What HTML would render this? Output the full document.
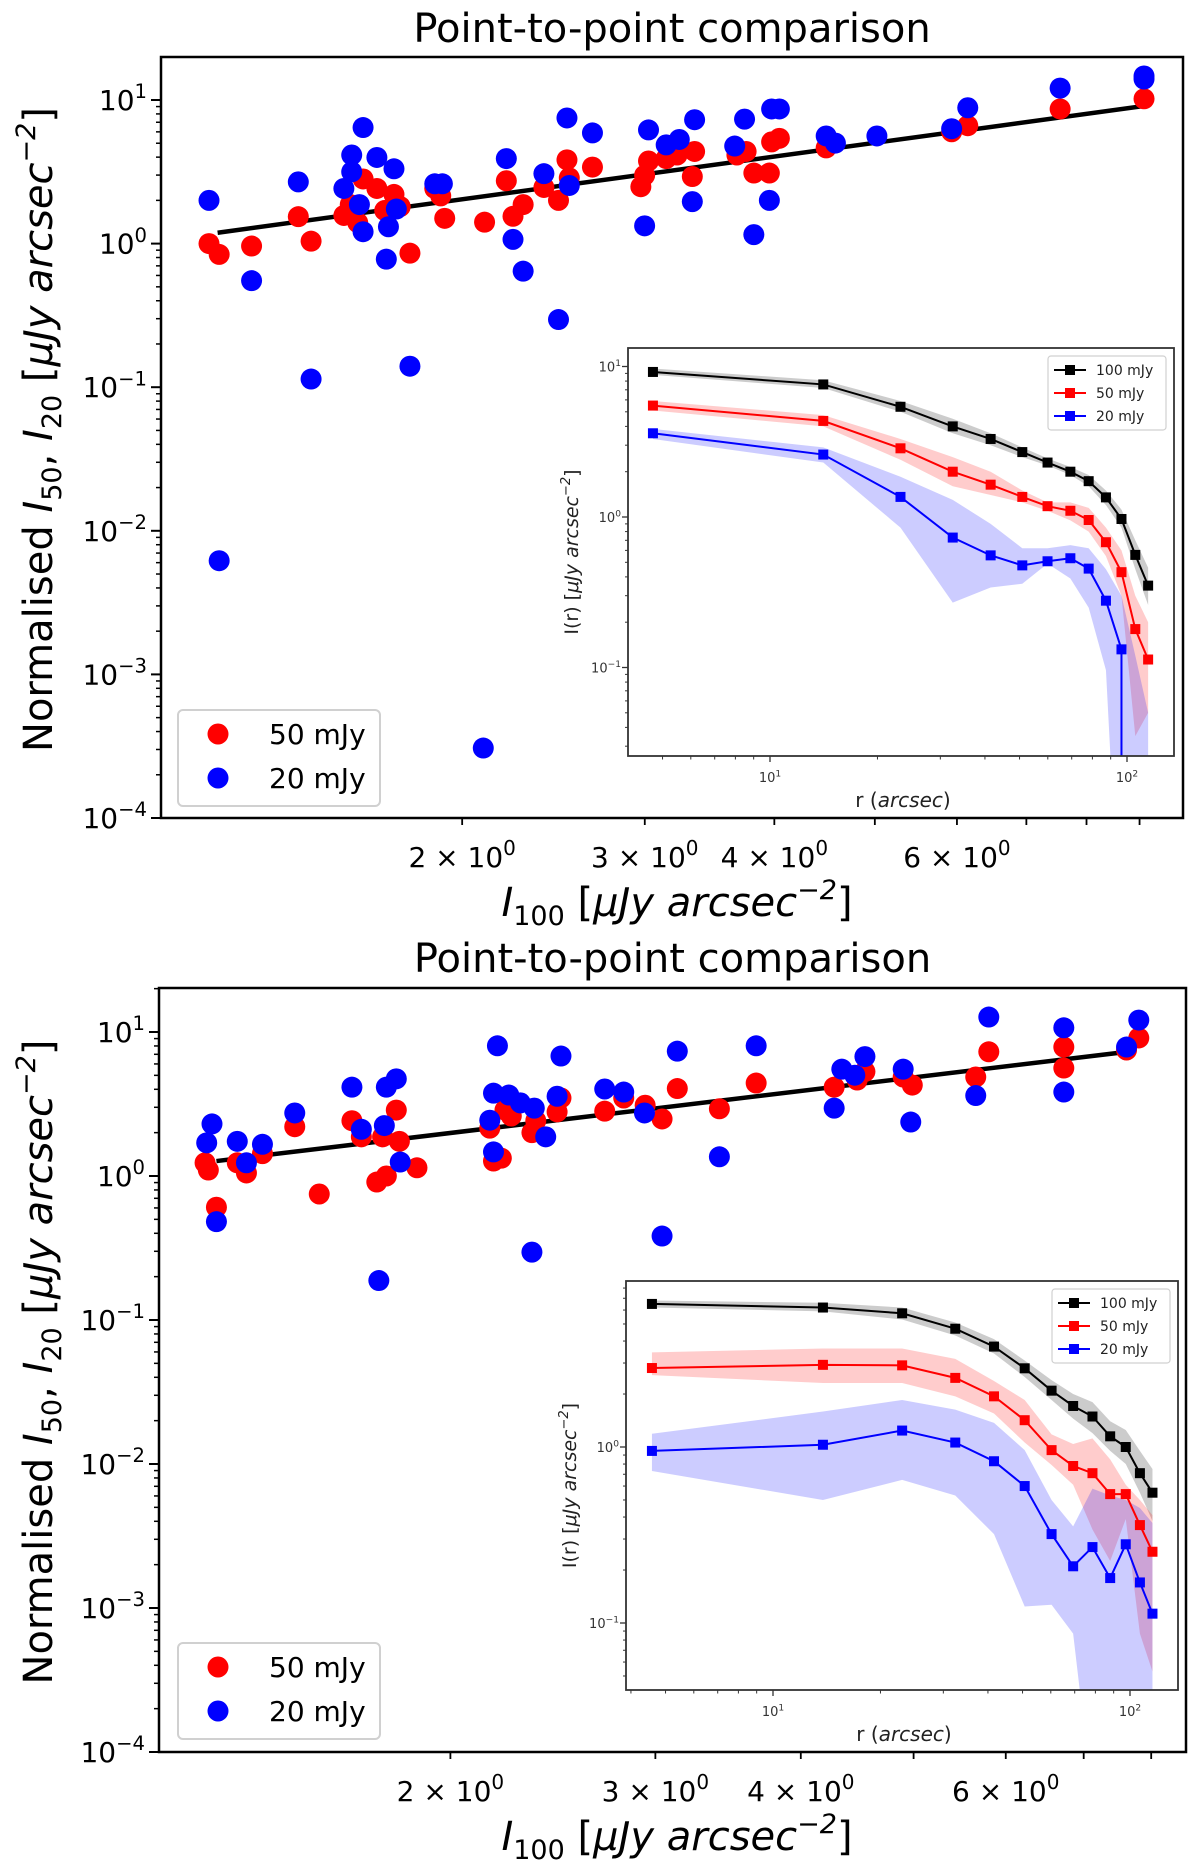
<!DOCTYPE html>
<html><head><meta charset="utf-8"><style>
html,body{margin:0;padding:0;background:#fff;}
svg{display:block;font-family:"DejaVu Sans","Liberation Sans",sans-serif;}
</style></head><body>
<svg id="fig" width="1200" height="1871" viewBox="0 0 1200 1871" xmlns="http://www.w3.org/2000/svg"></svg>
<script>
// ===== Top panel main scatter data =====
const topRedX = [1.14,1.166,1.253,1.39,1.43,1.538,1.56,1.586,1.605,1.655,1.684,1.719,1.743,1.781,1.882,1.907,1.924,2.102,2.206,2.239,2.29,2.398,2.477,2.524,2.537,2.671,2.974,2.999,3.025,3.146,3.223,3.334,3.351,3.681,3.757,3.822,3.956,3.976,4.045,4.488,5.93,6.146,7.545,9.09];
const topRedY = [1.0,0.841,0.962,1.54,1.04,1.57,1.87,1.40,2.82,2.42,1.70,2.20,1.81,0.858,2.42,2.15,1.50,1.41,2.74,1.55,1.87,2.46,2.0,3.83,2.87,3.41,2.49,2.99,3.76,3.91,4.14,2.93,4.38,4.14,4.38,3.10,3.10,5.11,5.41,4.64,6.01,6.62,8.66,10.2];
const topBlueX = [1.14,1.166,1.253,1.39,1.43,1.538,1.565,1.565,1.592,1.605,1.605,1.655,1.69,1.698,1.719,1.728,1.781,1.882,1.914,2.096,2.206,2.239,2.29,2.398,2.477,2.524,2.537,2.671,2.999,3.025,3.146,3.239,3.334,3.351,3.663,3.744,3.822,3.956,3.976,4.045,4.488,4.581,5.023,5.93,6.146,7.545,9.09,9.09];
const topBlueY = [2.0,0.00619,0.552,2.69,0.114,2.42,4.14,3.16,1.87,6.43,1.21,3.98,0.779,1.31,3.32,1.74,0.140,2.61,2.61,0.000307,3.91,1.07,0.643,3.07,0.296,7.50,2.54,5.90,1.33,6.19,4.87,5.31,1.96,7.29,4.78,7.36,1.155,2.0,8.66,8.66,5.62,5.01,5.62,6.31,8.83,12.1,14.7,14.0];
const topFitX = [1.162,9.09];
const topFitY = [1.19,9.08];
// ===== Top inset profile data =====
const tR = [4.7,14.1,23.2,32.5,41.5,50.9,59.9,69.4,78.1,87.3,96.5,105.5,114.6];
const tBlack = [9.2,7.6,5.4,4.0,3.3,2.7,2.3,2.0,1.73,1.35,0.97,0.56,0.35];
const tBlackHi = [9.7,8.1,5.9,4.5,3.6,2.9,2.45,2.15,1.9,1.5,1.12,0.7,0.46];
const tBlackLo = [8.8,7.2,5.0,3.6,3.0,2.5,2.2,1.9,1.6,1.2,0.85,0.45,0.26];
const tRed = [5.5,4.35,2.86,2.0,1.64,1.36,1.18,1.10,0.955,0.68,0.43,0.18,0.113];
const tRedHi = [5.9,4.75,3.3,2.5,2.0,1.5,1.25,1.25,1.15,0.85,0.6,0.3,0.2];
const tRedLo = [5.1,4.0,2.4,1.6,1.4,1.25,1.1,0.95,0.8,0.55,0.3,0.035,0.05];
const tBlue = [3.6,2.6,1.36,0.73,0.556,0.477,0.508,0.532,0.454,0.278,0.132,0,null];
const tBlueHi = [3.85,2.9,1.85,1.3,0.9,0.62,0.62,0.65,0.62,0.45,0.3,0.12,0.05];
const tBlueLo = [3.3,2.3,0.85,0.27,0.34,0.36,0.49,0.39,0.25,0.096,0.001,0.001,0.001];
// ===== Bottom panel main scatter data =====
const botRedX = [1.231,1.239,1.259,1.312,1.336,1.379,1.470,1.543,1.646,1.677,1.729,1.762,1.749,1.797,1.808,1.872,2.162,2.178,2.212,2.228,2.256,2.350,2.368,2.470,2.489,2.714,2.818,2.940,3.040,3.133,3.405,3.662,4.273,4.472,4.541,4.898,4.987,5.654,5.802,6.730,6.730,7.619,7.806];
const botRedY = [1.235,1.10,0.607,1.235,1.05,1.43,2.20,0.750,2.42,1.87,0.908,1.0,1.87,2.87,1.74,1.14,2.15,1.27,1.33,2.87,2.61,2.0,2.42,2.79,3.48,2.82,3.48,3.10,2.49,4.05,2.93,4.42,4.14,4.64,5.31,4.87,4.28,4.87,7.29,7.86,5.62,7.50,9.09];
const botBlueX = [1.235,1.248,1.259,1.312,1.336,1.379,1.470,1.646,1.677,1.736,1.755,1.762,1.797,1.811,2.162,2.178,2.195,2.178,2.245,2.297,2.350,2.361,2.415,2.470,2.489,2.714,2.818,2.936,3.040,3.133,3.405,3.662,4.273,4.338,4.451,4.541,4.898,4.972,5.654,5.802,6.730,6.730,7.619,7.806];
const botBlueY = [1.70,2.30,0.482,1.74,1.235,1.66,2.74,4.14,2.11,0.188,2.24,4.14,4.73,1.25,2.44,1.47,8.02,3.76,3.65,3.22,0.296,2.96,1.87,3.58,6.81,4.02,3.83,2.74,0.383,7.36,1.36,8.02,2.96,5.52,5.01,6.75,5.52,2.37,3.62,12.7,10.7,3.83,7.86,12.1];
const botFitX = [1.259,7.48,7.66];
const botFitY = [1.27,7.15,7.45];
// ===== Bottom inset profile data =====
const bR = [4.58,13.8,23.0,32.4,41.6,50.7,60.3,69.3,78.5,88.0,97.3,106.6,115.6];
const bBlack = [6.5,6.2,5.75,4.7,3.72,2.8,2.09,1.71,1.49,1.15,1.0,0.71,0.55];
const bBlackHi = [6.8,6.6,6.2,5.1,4.1,3.1,2.4,2.0,1.8,1.4,1.25,0.95,0.75];
const bBlackLo = [6.2,5.9,5.3,4.3,3.4,2.5,1.85,1.45,1.2,0.95,0.8,0.55,0.38];
const bRed = [2.81,2.93,2.91,2.47,1.94,1.42,0.96,0.78,0.71,0.54,0.54,0.36,0.254];
const bRedHi = [3.45,3.63,3.63,3.17,2.37,1.85,1.18,1.04,1.12,0.85,0.61,0.5,0.41];
const bRedLo = [2.56,2.31,2.31,1.94,1.55,1.06,0.79,0.61,0.34,0.225,0.39,0.087,0.053];
const bBlue = [0.95,1.03,1.24,1.06,0.83,0.60,0.32,0.21,0.27,0.18,0.28,0.17,0.113];
const bBlueHi = [1.19,1.59,1.85,1.63,1.37,0.96,0.50,0.354,0.58,0.53,0.50,0.45,0.37];
const bBlueLo = [0.73,0.50,0.65,0.53,0.32,0.124,0.127,0.087,0.01,0.01,0.01,0.01,0.01];

const NS = "http://www.w3.org/2000/svg";
const svg = document.getElementById('fig');
function mk(tag, attrs, parent){
  const e = document.createElementNS(NS, tag);
  for (const k in attrs) e.setAttribute(k, attrs[k]);
  (parent||svg).appendChild(e);
  return e;
}
const L = Math.log10;

function supText(parent, x, y, base, sup, size, anchor, italic){
  const t = mk('text', {x:x, y:y, 'font-size':size, 'text-anchor':anchor||'middle', fill:'#000'}, parent);
  if (italic) t.setAttribute('font-style','italic');
  t.appendChild(document.createTextNode(base));
  const s = mk('tspan', {'font-size':size*0.7, dy:-size*0.42}, t);
  s.textContent = sup;
  return t;
}

let clipId = 0;
function mainPanel(P){
  const g = mk('g', {});
  
  
  const X = v => P.x0 + P.xd*L(v);
  const Y = v => P.y1 - P.yd*(L(v)-1);
  const ti = mk('text', {x:(P.left+P.right)/2, y:P.titleY, 'font-size':40, 'text-anchor':'middle'}, g);
  ti.textContent = 'Point-to-point comparison';
  
  
  const cid = 'c'+(clipId++);
  const cp = mk('clipPath', {id:cid}, g);
  mk('rect', {x:P.left, y:P.top, width:P.right-P.left, height:P.bottom-P.top}, cp);
  const pg = mk('g', {'clip-path':'url(#'+cid+')'}, g);
  const pts = P.fitX.map((v,i)=>X(v)+','+Y(P.fitY[i])).join(' ');
  const fl = mk('polyline', {points:pts, fill:'none', stroke:'#000', 'stroke-width':4.5}, pg);
  
  
  P.redX.forEach((v,i)=>{
    const c = mk('ellipse', {cx:X(v), cy:Y(P.redY[i]), rx:10.5, ry:10.5, fill:'#ff0000'}, pg);
    
    
  });
  P.blueX.forEach((v,i)=>{
    const c = mk('ellipse', {cx:X(v), cy:Y(P.blueY[i]), rx:10.5, ry:10.5, fill:'#0000ff'}, pg);
    
    
  });
  const fr = mk('rect', {x:P.left, y:P.top, width:P.right-P.left, height:P.bottom-P.top, fill:'none', stroke:'#000', 'stroke-width':2.5}, g);
  
  
  for (let e=-4; e<=1; e++){
    const yy = Y(Math.pow(10,e));
    mk('line', {x1:P.left-10, x2:P.left, y1:yy, y2:yy, stroke:'#000', 'stroke-width':2}, g);
    const lb = supText(g, P.left-14, yy+10, '10', e<0?'−'+(-e):String(e), 28, 'end');
    
    
    for (let m=2; m<=9; m++){
      const my = Y(m*Math.pow(10,e));
      if (my < P.top) continue;
      mk('line', {x1:P.left-5, x2:P.left, y1:my, y2:my, stroke:'#000', 'stroke-width':1.5}, g);
    }
  }
  for (let m=2; m<=9; m++){
    const xx = X(m);
    if (xx > P.right) continue;
    mk('line', {x1:xx, x2:xx, y1:P.bottom, y2:P.bottom+7, stroke:'#000', 'stroke-width':1.8}, g);
    if ([2,3,4,6].includes(m)){
      const t = mk('text', {x:xx, y:P.bottom+49, 'font-size':28, 'text-anchor':'middle'}, g);
      t.appendChild(document.createTextNode(m+' × 10'));
      const s = mk('tspan', {'font-size':20, dy:-12}, t); s.textContent='0';
      
      
    }
  }
  const xl = mk('text', {x:P.xlabX, y:P.bottom+98, 'font-size':40, 'text-anchor':'middle'}, g);
  const i1 = mk('tspan', {'font-style':'italic'}, xl); i1.textContent='I';
  const i2 = mk('tspan', {'font-size':27, dy:9}, xl); i2.textContent='100';
  const i3 = mk('tspan', {dy:-9}, xl); i3.textContent=' [';
  const i4 = mk('tspan', {'font-style':'italic'}, xl); i4.textContent='μJy arcsec';
  const i5 = mk('tspan', {'font-style':'italic','font-size':27, dy:-17}, xl); i5.textContent='−2';
  const i6 = mk('tspan', {dy:17}, xl); i6.textContent=']';
  
  
  const yc = (P.top+P.bottom)/2;
  const yl = mk('text', {x:0, y:0, 'font-size':40, 'text-anchor':'middle', transform:'translate(52,'+(yc-8)+') rotate(-90)'}, g);
  const j1 = mk('tspan', {}, yl); j1.textContent='Normalised ';
  const j2 = mk('tspan', {'font-style':'italic'}, yl); j2.textContent='I';
  const j3 = mk('tspan', {'font-size':27, dy:9}, yl); j3.textContent='50';
  const j4 = mk('tspan', {dy:-9}, yl); j4.textContent=', ';
  const j5 = mk('tspan', {'font-style':'italic'}, yl); j5.textContent='I';
  const j6 = mk('tspan', {'font-size':27, dy:9}, yl); j6.textContent='20';
  const j7 = mk('tspan', {dy:-9}, yl); j7.textContent=' [';
  const j8 = mk('tspan', {'font-style':'italic'}, yl); j8.textContent='μJy arcsec';
  const j9 = mk('tspan', {'font-style':'italic','font-size':27, dy:-17}, yl); j9.textContent='−2';
  const j10 = mk('tspan', {dy:17}, yl); j10.textContent=']';
  
  
  const lg = mk('g', {}, g);
  
  
  mk('rect', {x:178, y:P.legY, width:202, height:96, rx:5, fill:'#fff', stroke:'#d0d0d0', 'stroke-width':2}, lg);
  [['#ff0000','50 mJy'],['#0000ff','20 mJy']].forEach((d,i)=>{
    const yy = P.legY+24+i*44;
    const e = mk('g', {}, lg);
    
    
    mk('ellipse', {cx:218, cy:yy, rx:10.5, ry:10.5, fill:d[0]}, e);
    const t = mk('text', {x:269, y:yy+10, 'font-size':28}, e); t.textContent=d[1];
  });
}

function inset(I){
  const g = mk('g', {});
  
  
  const X = r => I.x10 + I.xd*(L(r)-1);
  const Y = v => I.y0 - I.yd*L(v);
  mk('rect', {x:I.left, y:I.top, width:I.right-I.left, height:I.bottom-I.top, fill:'#fff'}, g);
  const cid = 'c'+(clipId++);
  const cp = mk('clipPath', {id:cid}, g);
  mk('rect', {x:I.left, y:I.top, width:I.right-I.left, height:I.bottom-I.top}, cp);
  const pg = mk('g', {'clip-path':'url(#'+cid+')'}, g);
  const series = [
    ['100mjy', '#000000', I.black, I.blackHi, I.blackLo],
    ['50mjy', '#ff0000', I.red, I.redHi, I.redLo],
    ['20mjy', '#0000ff', I.blue, I.blueHi, I.blueLo]
  ];
  series.forEach(s=>{
    const up = s[3].map((v,i)=>X(I.r[i])+','+Math.min(Y(v), I.bottom+500));
    const dn = s[4].map((v,i)=>X(I.r[i])+','+Math.min(Y(v), I.bottom+500)).reverse();
    const b = mk('polygon', {points:up.concat(dn).join(' '), fill:s[1], 'fill-opacity':0.2}, pg);
    
    
  });
  series.forEach(s=>{
    const pts = [];
    s[2].forEach((v,i)=>{
      if (v === null) return;
      if (v <= 0){ pts.push(X(I.r[i-1])+','+(I.bottom+20)); return; }
      pts.push(X(I.r[i])+','+Y(v));
    });
    const ln = mk('polyline', {points:pts.join(' '), fill:'none', stroke:s[1], 'stroke-width':2}, pg);
    
    
    s[2].forEach((v,i)=>{
      if (v === null || v <= 0) return;
      const m = mk('rect', {x:X(I.r[i])-5, y:Y(v)-5, width:10, height:10, fill:s[1]}, pg);
      
      
    });
  });
  mk('rect', {x:I.left, y:I.top, width:I.right-I.left, height:I.bottom-I.top, fill:'none', stroke:'#333', 'stroke-width':1.8}, g);
  for (let e=-2; e<=1; e++){
    const yy = Y(Math.pow(10,e));
    if (yy >= I.top && yy <= I.bottom){
      mk('line', {x1:I.left-6, x2:I.left, y1:yy, y2:yy, stroke:'#333', 'stroke-width':1.3}, g);
      const lb = supText(g, I.left-7, yy+5, '10', e<0?'−'+(-e):String(e), 13, 'end');
      lb.setAttribute('fill','#333');
      
      
    }
    for (let m=2; m<=9; m++){
      const my = Y(m*Math.pow(10,e));
      if (my < I.top || my > I.bottom) continue;
      mk('line', {x1:I.left-3, x2:I.left, y1:my, y2:my, stroke:'#333', 'stroke-width':1}, g);
    }
  }
  for (let e=0; e<=2; e++){
    const xx = X(Math.pow(10,e));
    if (xx >= I.left && xx <= I.right){
      mk('line', {x1:xx, x2:xx, y1:I.bottom, y2:I.bottom+6, stroke:'#333', 'stroke-width':1.3}, g);
      const lb = supText(g, xx, I.bottom+26, '10', String(e), 13, 'middle');
      lb.setAttribute('fill','#333');
      
      
    }
    for (let m=2; m<=9; m++){
      const mx = X(m*Math.pow(10,e));
      if (mx < I.left || mx > I.right) continue;
      mk('line', {x1:mx, x2:mx, y1:I.bottom, y2:I.bottom+3.5, stroke:'#333', 'stroke-width':1}, g);
    }
  }
  const xl = mk('text', {x:(I.left+I.right)/2+2, y:I.bottom+51, 'font-size':20, 'text-anchor':'middle', fill:'#222'}, g);
  xl.appendChild(document.createTextNode('r ('));
  const it = mk('tspan', {'font-style':'italic'}, xl); it.textContent='arcsec';
  const ct = mk('tspan', {}, xl); ct.textContent=')';
  
  
  const yl = mk('text', {x:0, y:0, 'font-size':19, 'text-anchor':'middle', fill:'#222', transform:'translate('+(I.left-50)+','+((I.top+I.bottom)/2)+') rotate(-90)'}, g);
  yl.appendChild(document.createTextNode('I(r) ['));
  const a = mk('tspan', {'font-style':'italic'}, yl); a.textContent='μJy arcsec';
  const b = mk('tspan', {'font-style':'italic','font-size':13, dy:-8}, yl); b.textContent='−2';
  const c = mk('tspan', {dy:8}, yl); c.textContent=']';
  
  
  const lg = mk('g', {}, g);
  
  
  const lx = I.right-126, ly = I.top+8;
  mk('rect', {x:lx, y:ly, width:118, height:74, rx:3, fill:'#fff', stroke:'#d0d0d0', 'stroke-width':1.2}, lg);
  [['#000','100 mJy'],['#ff0000','50 mJy'],['#0000ff','20 mJy']].forEach((d,i)=>{
    const yy = ly+14+i*23;
    const e = mk('g', {}, lg);
    
    
    mk('line', {x1:lx+6, x2:lx+38, y1:yy, y2:yy, stroke:d[0], 'stroke-width':2}, e);
    mk('rect', {x:lx+17, y:yy-5, width:10, height:10, fill:d[0]}, e);
    const t = mk('text', {x:lx+48, y:yy+5, 'font-size':14, fill:'#222'}, e); t.textContent=d[1];
  });
}

mainPanel({name:'top-panel', left:161, right:1183, top:57, bottom:818, titleY:42,
  x0:150, xd:1037, y1:100, yd:143.6, xlabX:677, legY:710,
  redX:topRedX, redY:topRedY, blueX:topBlueX, blueY:topBlueY, fitX:topFitX, fitY:topFitY});
inset({name:'top-inset', left:628, right:1174, top:348, bottom:756, x10:770, xd:357, y0:517, yd:150.5,
  r:tR, black:tBlack, blackHi:tBlackHi, blackLo:tBlackLo, red:tRed, redHi:tRedHi, redLo:tRedLo, blue:tBlue, blueHi:tBlueHi, blueLo:tBlueLo});

mainPanel({name:'bottom-panel', left:159, right:1186, top:988, bottom:1752, titleY:972,
  x0:100, xd:1164, y1:1032, yd:144, xlabX:677, legY:1643,
  redX:botRedX, redY:botRedY, blueX:botBlueX, blueY:botBlueY, fitX:botFitX, fitY:botFitY});
inset({name:'bottom-inset', left:626, right:1178, top:1281, bottom:1690, x10:773, xd:357, y0:1447, yd:176,
  r:bR, black:bBlack, blackHi:bBlackHi, blackLo:bBlackLo, red:bRed, redHi:bRedHi, redLo:bRedLo, blue:bBlue, blueHi:bBlueHi, blueLo:bBlueLo});
</script>
</body></html>
